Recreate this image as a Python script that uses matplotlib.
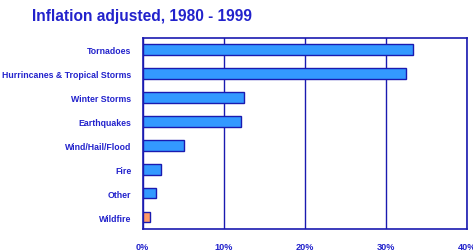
import matplotlib
matplotlib.use("Agg")
import matplotlib.pyplot as plt
from matplotlib.ticker import PercentFormatter

categories = ["Tornadoes", "Hurrincanes & Tropical Storms", "Winter Storms", "Earthquakes",
              "Wind/Hail/Flood", "Fire", "Other", "Wildfire"]
shares = [33.3, 32.5, 12.5, 12.1, 5.1, 2.2, 1.7, 0.85]
bar_colors = ["#3399FF"] * 7 + ["#FF9966"]

TXT = "#2222CC"
EDGE = "#1A1AB0"

plt.rcParams["font.family"] = ["Liberation Sans", "DejaVu Sans"]

fig = plt.figure(figsize=(4.73, 2.53), dpi=100)
ax = fig.add_axes([0.3017, 0.0909, 0.6856, 0.7569])

y = range(len(categories))
ax.barh(y, shares, height=0.45, color=bar_colors, edgecolor=EDGE, linewidth=1.0, zorder=3)
ax.set_ylim(len(categories) - 0.5, -0.5)
ax.set_xlim(0, 40)
ax.set_xticks([0, 10, 20, 30, 40])
ax.xaxis.set_major_formatter(PercentFormatter(decimals=0))
ax.set_yticks(list(y))
ax.set_yticklabels(categories)
ax.grid(axis="x", color=EDGE, linewidth=1.0, zorder=0)
for s in ax.spines.values():
    s.set_color(EDGE)
    s.set_linewidth(1.2)
ax.tick_params(length=0, colors=TXT)
ax.tick_params(axis="y", pad=8, labelsize=6.3)
ax.tick_params(axis="x", pad=9, labelsize=6.6)
for lab in ax.get_xticklabels() + ax.get_yticklabels():
    lab.set_fontweight("bold")

fig.text(0.068, 0.935, "Inflation adjusted, 1980 - 1999", color=TXT, fontsize=11.2,
         fontweight="bold", va="center")

fig.savefig("out.png", dpi=100)
